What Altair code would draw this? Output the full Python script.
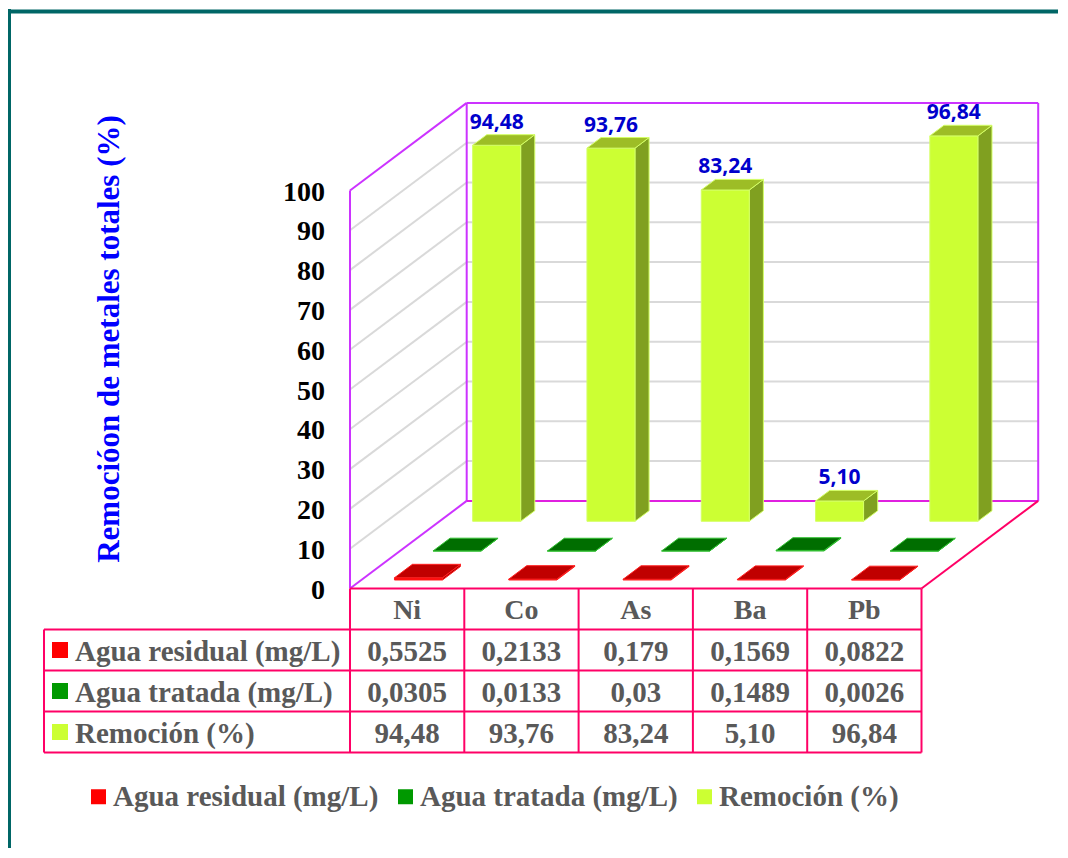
import altair as alt
import pandas as pd

# ---------------- data ----------------
categories = ["Ni", "Co", "As", "Ba", "Pb"]
agua_residual = [0.5525, 0.2133, 0.179, 0.1569, 0.0822]
agua_tratada = [0.0305, 0.0133, 0.03, 0.1489, 0.0026]
remocion = [94.48, 93.76, 83.24, 5.10, 96.84]
series_names = ["Agua residual (mg/L)", "Agua tratada (mg/L)", "Remoción (%)"]
y_ticks = [0, 10, 20, 30, 40, 50, 60, 70, 80, 90, 100]
axis_title = "Remocióon de metales totales (%)"

# ---------------- styling / layout ----------------
W, H = 1050, 840
PXC, PXU = 114.3, 3.98          # px per category column, px per value unit
X0PX, Y0PX, PAGE = 350.0, 588.5, 8.0
DX, DY = 116.7 / PXC, 87.6 / PXU   # 3-D depth offset (in scale units)
XD = [(PAGE - X0PX) / PXC, (PAGE + W - X0PX) / PXC]
YD = [(Y0PX - (PAGE + H)) / PXU, (Y0PX - PAGE) / PXU]
xs = alt.Scale(domain=XD, nice=False, zero=False)
ys = alt.Scale(domain=YD, nice=False, zero=False)

legend_colors = ["#FF0000", "#009900", "#CCFF33"]
depth = {"Agua residual (mg/L)": (0.097, 0.251),
         "Agua tratada (mg/L)": (0.428, 0.573),
         "Remoción (%)": (0.767, 0.888)}
faces = {"Agua residual (mg/L)": dict(front="#FF0000", side="#B00000", top="#C00000", stroke="#FF2020"),
         "Agua tratada (mg/L)": dict(front="#00A000", side="#005000", top="#006E00", stroke="#33C033"),
         "Remoción (%)": dict(front="#CCFF33", side="#80A020", top="#9DBD26", stroke="#D4FF66")}
XL, XR = 0.29, 0.71
SERIF = "Liberation Serif"
GRAY = "#595959"
PINK = "#FF0066"
VIOLET = "#CC33FF"


def X(f):
    return alt.X(f, type="quantitative", scale=xs, axis=None)


def Y(f):
    return alt.Y(f, type="quantitative", scale=ys, axis=None, stack=None)


# ---------------- 3-D boxes ----------------
front_rows, side_rows, top_rows, lab_rows = [], [], [], []
all_vals = [agua_residual, agua_tratada, remocion]
for s_idx in [2, 1, 0]:
    name, vals = series_names[s_idx], all_vals[s_idx]
    d0, d1 = depth[name]
    fc = faces[name]
    for i, v in enumerate(vals):
        key = f"{s_idx}-{i}"
        xl, xr = i + XL, i + XR
        front_rows.append(dict(id=key, x=xl + d0 * DX, x2=xr + d0 * DX, y=d0 * DY, y2=v + d0 * DY,
                               fill=fc["front"], stroke=fc["stroke"]))
        side_rows.append(dict(id=key, x=xr + d0 * DX, y=d0 * DY, y2=v + d0 * DY, fill=fc["side"], stroke=fc["stroke"]))
        side_rows.append(dict(id=key, x=xr + d1 * DX, y=d1 * DY, y2=v + d1 * DY, fill=fc["side"], stroke=fc["stroke"]))
        top_rows.append(dict(id=key, yy=v + d0 * DY, x=xl + d0 * DX, x2=xr + d0 * DX, fill=fc["top"], stroke=fc["stroke"]))
        top_rows.append(dict(id=key, yy=v + d1 * DY, x=xl + d1 * DX, x2=xr + d1 * DX, fill=fc["top"], stroke=fc["stroke"]))
        if s_idx == 2:
            lab_rows.append(dict(x=(xl + xr) / 2 + d0 * DX, y=v + d1 * DY, t=f"{v:.2f}".replace(".", ",")))

front_df = pd.DataFrame(front_rows)
side_df = pd.DataFrame(side_rows)
top_df = pd.DataFrame(top_rows)
lab_df = pd.DataFrame(lab_rows)

ncol = len(categories)
# ---------------- walls / grid ----------------
grid_rows = []
for v in y_ticks[1:-1]:
    grid_rows.append(dict(x=DX, x2=ncol + DX, y=v + DY, y2=v + DY))
    grid_rows.append(dict(x=0, x2=DX, y=v, y2=v + DY))
grid_df = pd.DataFrame(grid_rows)

top_v = y_ticks[-1]
edge_rows = [
    dict(x=0, y=0, x2=0, y2=top_v, c=VIOLET),
    dict(x=0, y=top_v, x2=DX, y2=top_v + DY, c=VIOLET),
    dict(x=DX, y=DY, x2=DX, y2=top_v + DY, c=VIOLET),
    dict(x=DX, y=top_v + DY, x2=ncol + DX, y2=top_v + DY, c=VIOLET),
    dict(x=ncol + DX, y=DY, x2=ncol + DX, y2=top_v + DY, c=VIOLET),
    dict(x=DX, y=DY, x2=ncol + DX, y2=DY, c="#E020E0"),
    dict(x=0, y=0, x2=DX, y2=DY, c=VIOLET),
    dict(x=ncol, y=0, x2=ncol + DX, y2=DY, c=PINK),
]
edge_df = pd.DataFrame(edge_rows)

# ---------------- table ----------------
ROW_H = 41.0 / PXU
X_LEFT = (44 - X0PX) / PXC
X_LABEL = (75 - X0PX) / PXC
X_MARK = (60 - X0PX) / PXC
nrows = len(series_names)
tline_rows = [dict(x=0, x2=ncol, y=0, y2=0)]
for r in range(1, nrows + 2):
    tline_rows.append(dict(x=X_LEFT, x2=ncol, y=-r * ROW_H, y2=-r * ROW_H))
for c in range(ncol + 1):
    tline_rows.append(dict(x=c, x2=c, y=0, y2=-(nrows + 1) * ROW_H))
tline_rows.append(dict(x=X_LEFT, x2=X_LEFT, y=-ROW_H, y2=-(nrows + 1) * ROW_H))
tline_df = pd.DataFrame(tline_rows)

head_df = pd.DataFrame(dict(x=[i + 0.5 for i in range(ncol)], y=[-0.5 * ROW_H] * ncol, t=categories))


def fmt_mg(v):
    return str(v).replace(".", ",")


cell_rows, rowlab_rows = [], []
for r, (name, vals) in enumerate(zip(series_names, all_vals)):
    yc = -(r + 1.5) * ROW_H
    rowlab_rows.append(dict(x=X_LABEL, xm=X_MARK, y=yc, t=name, series=name))
    for i, v in enumerate(vals):
        t = f"{v:.2f}".replace(".", ",") if r == 2 else fmt_mg(v)
        cell_rows.append(dict(x=i + 0.5, y=yc, t=t))
cell_df = pd.DataFrame(cell_rows)
rowlab_df = pd.DataFrame(rowlab_rows)

tick_df = pd.DataFrame(dict(x=[0] * len(y_ticks), y=y_ticks, t=[str(v) for v in y_ticks]))
title_df = pd.DataFrame(dict(x=[(110 - X0PX) / PXC], y=[(Y0PX - 339) / PXU], t=[axis_title]))

# ---------------- layers ----------------
grid = alt.Chart(grid_df).mark_rule(color="#D9D9D9", strokeWidth=2).encode(
    x=X("x"), x2="x2", y=Y("y"), y2="y2")
edges = alt.Chart(edge_df).mark_rule(strokeWidth=2).encode(
    x=X("x"), x2="x2", y=Y("y"), y2="y2", color=alt.Color("c:N", scale=None))

side = alt.Chart(side_df).mark_area(orient="vertical", strokeWidth=1, opacity=1).encode(
    x=X("x"), y=Y("y"), y2="y2", detail="id:N",
    fill=alt.Fill("fill:N", scale=None), stroke=alt.Stroke("stroke:N", scale=None))
front = alt.Chart(front_df).mark_rect(strokeWidth=1).encode(
    x=X("x"), x2="x2", y=Y("y"), y2="y2",
    fill=alt.Fill("fill:N", scale=None), stroke=alt.Stroke("stroke:N", scale=None))
top = alt.Chart(top_df).mark_area(orient="horizontal", strokeWidth=1, opacity=1).encode(
    y=Y("yy"), x=X("x"), x2="x2", detail="id:N",
    fill=alt.Fill("fill:N", scale=None), stroke=alt.Stroke("stroke:N", scale=None))

labels = alt.Chart(lab_df).mark_text(font="Open Sans", fontSize=21, fontWeight="bold", color="#0000CC",
                                     baseline="alphabetic", dy=-6).encode(x=X("x"), y=Y("y"), text="t:N")

ticks = alt.Chart(tick_df).mark_text(font=SERIF, fontSize=28, fontWeight="bold", color="#000000",
                                     align="right", baseline="middle", dx=-25, dy=2).encode(
    x=X("x"), y=Y("y"), text="t:N")
title = alt.Chart(title_df).mark_text(font=SERIF, fontSize=31, fontWeight="bold", color="#0000FF",
                                      angle=270, baseline="middle", align="center").encode(
    x=X("x"), y=Y("y"), text="t:N")

tlines = alt.Chart(tline_df).mark_rule(color=PINK, strokeWidth=2).encode(
    x=X("x"), x2="x2", y=Y("y"), y2="y2")
heads = alt.Chart(head_df).mark_text(font=SERIF, fontSize=28, fontWeight="bold", color=GRAY,
                                     baseline="middle", dy=2).encode(x=X("x"), y=Y("y"), text="t:N")
cells = alt.Chart(cell_df).mark_text(font=SERIF, fontSize=29, fontWeight="bold", color=GRAY,
                                     baseline="middle", dy=2).encode(x=X("x"), y=Y("y"), text="t:N")
rowlabs = alt.Chart(rowlab_df).mark_text(font=SERIF, fontSize=29, fontWeight="bold", color=GRAY,
                                         align="left", baseline="middle", dy=2).encode(
    x=X("x"), y=Y("y"), text="t:N")
markers = alt.Chart(rowlab_df).mark_square(size=256, opacity=1).encode(
    x=X("xm"), y=Y("y"),
    color=alt.Color("series:N", scale=alt.Scale(domain=series_names, range=legend_colors),
                    legend=alt.Legend(title=None, orient="none", legendX=76, legendY=774,
                                      direction="horizontal", symbolType="square", symbolSize=225,
                                      symbolStrokeWidth=0, labelFont=SERIF, labelFontSize=29,
                                      labelFontWeight="bold", labelColor=GRAY, labelLimit=600,
                                      columnPadding=12, labelOffset=0, padding=0)))

border_left = alt.Chart(pd.DataFrame({"k": [0]})).mark_rule(color="#006666", strokeWidth=5).encode(
    x=alt.value(0.5), y=alt.value(1), y2=alt.value(H))
border_top = alt.Chart(pd.DataFrame({"k": [0]})).mark_rule(color="#006666", strokeWidth=4).encode(
    y=alt.value(3.5), x=alt.value(0), x2=alt.value(W))

chart = alt.layer(
    grid, edges, side, front, top, labels, ticks, title, tlines, heads, cells, rowlabs, markers,
    border_left, border_top
).properties(
    width=W, height=H, padding=0, autosize=alt.AutoSizeParams(type="none"), background="#FFFFFF"
).configure_view(strokeOpacity=0)

chart.save("out.html", embed_options={"renderer": "svg", "actions": False})
